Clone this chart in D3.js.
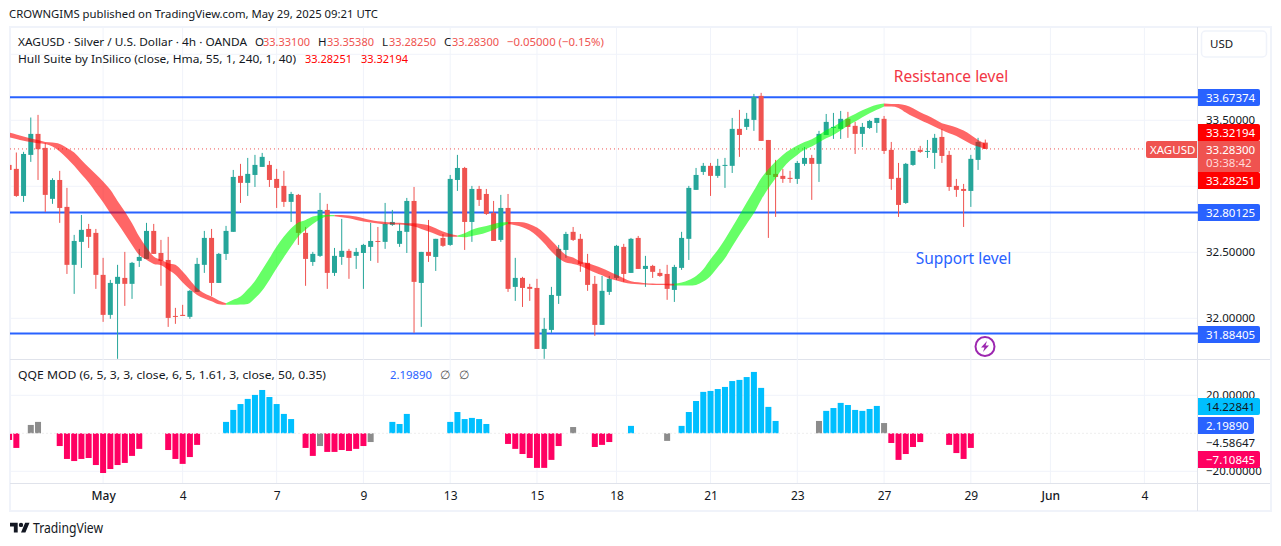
<!DOCTYPE html>
<html>
<head>
<meta charset="utf-8">
<title>XAGUSD</title>
<script src="https://cdn.jsdelivr.net/npm/d3@7"></script>
<style>
	html, body { margin: 0; padding: 0; background: #fff; }
	svg { display: block; }
	text { font-family: "Noto Sans", sans-serif; font-size: 11.5px; fill: #131722; }
</style>
</head>
<body>
<svg id="chart" width="1281" height="546"></svg>
<script>
// 4h candles, one value per bar
var candleOpen = [
	33.162, 33.132, 32.927, 33.238, 33.397, 33.291, 32.905, 33.048, 32.844, 32.405,
	32.579, 32.677, 32.647, 32.329, 32.026, 32.261, 32.306, 32.261, 32.435, 32.450,
	32.662, 32.495, 32.442, 32.018, 32.026, 32.011, 32.200, 32.405, 32.609, 32.268,
	32.488, 32.655, 33.079, 33.026, 33.086, 33.147, 33.162, 33.056, 33.003, 32.882,
	32.935, 32.647, 32.427, 32.473, 32.821, 32.344, 32.465, 32.511, 32.473, 32.495,
	32.541, 32.586, 32.579, 32.708, 32.564, 32.655, 32.889, 32.268, 32.503, 32.465,
	32.609, 32.556, 33.048, 33.139, 32.730, 32.980, 32.942, 32.799, 32.594, 32.836,
	32.238, 32.306, 32.238, 32.230, 31.768, 31.912, 32.170, 32.518, 32.655, 32.602,
	32.420, 32.261, 31.950, 32.200, 32.306, 32.541, 32.344, 32.609, 32.374, 32.397,
	32.344, 32.336, 32.215, 32.382, 32.602, 32.973, 33.109, 33.155, 33.079, 33.155,
	33.155, 33.435, 33.450, 33.503, 33.685, 33.351, 33.094, 33.079, 33.064, 33.056,
	33.170, 33.215, 33.170, 33.389, 33.442, 33.435, 33.511, 33.458, 33.397, 33.442,
	33.480, 33.511, 33.276, 33.064, 32.874, 33.162, 33.276, 33.261, 33.253, 33.374,
	33.238, 33.003, 32.980, 32.965, 33.200, 33.331
];
var candleHigh = [
	33.170, 33.256, 33.261, 33.521, 33.541, 33.326, 33.061, 33.117, 32.988, 32.632,
	32.783, 32.715, 32.677, 32.458, 32.291, 32.405, 32.503, 32.427, 32.526, 32.723,
	32.715, 32.594, 32.617, 32.079, 32.102, 32.215, 32.458, 32.662, 32.677, 32.495,
	32.700, 33.124, 33.170, 33.215, 33.238, 33.253, 33.192, 33.132, 33.117, 32.958,
	32.942, 32.692, 32.503, 32.950, 32.867, 32.533, 32.753, 32.526, 32.533, 32.564,
	32.723, 32.692, 32.874, 32.821, 32.715, 32.912, 32.995, 32.503, 32.745, 32.602,
	32.639, 33.086, 33.238, 33.147, 33.003, 33.003, 32.980, 32.889, 32.935, 32.942,
	32.458, 32.314, 32.261, 32.299, 32.003, 32.238, 32.556, 32.655, 32.692, 32.639,
	32.488, 32.321, 32.321, 32.321, 32.556, 32.564, 32.609, 32.624, 32.473, 32.405,
	32.374, 32.405, 32.405, 32.655, 33.003, 33.139, 33.177, 33.177, 33.208, 33.215,
	33.518, 33.579, 33.556, 33.700, 33.708, 33.351, 33.200, 33.132, 33.117, 33.192,
	33.298, 33.238, 33.420, 33.548, 33.556, 33.571, 33.564, 33.488, 33.480, 33.503,
	33.518, 33.533, 33.336, 33.177, 33.177, 33.268, 33.306, 33.351, 33.397, 33.435,
	33.268, 33.056, 33.018, 33.238, 33.367, 33.354
];
var candleLow = [
	33.110, 32.920, 32.882, 33.185, 33.048, 32.806, 32.867, 32.723, 32.336, 32.185,
	32.382, 32.533, 32.223, 31.973, 31.996, 31.693, 32.094, 32.147, 32.389, 32.450,
	32.488, 32.246, 31.935, 31.958, 32.018, 31.996, 32.200, 32.344, 32.170, 32.268,
	32.442, 32.655, 32.874, 32.927, 32.995, 33.147, 32.995, 32.836, 32.844, 32.730,
	32.556, 32.246, 32.397, 32.465, 32.223, 32.321, 32.405, 32.299, 32.374, 32.223,
	32.435, 32.420, 32.526, 32.700, 32.541, 32.495, 31.890, 31.935, 32.427, 32.359,
	32.541, 32.549, 32.965, 32.518, 32.579, 32.851, 32.783, 32.586, 32.579, 32.200,
	32.132, 32.086, 32.132, 31.768, 31.693, 31.890, 32.109, 32.458, 32.586, 32.352,
	32.208, 31.867, 31.950, 32.177, 32.291, 32.276, 32.344, 32.374, 32.238, 32.306,
	32.314, 32.140, 32.124, 32.367, 32.442, 32.973, 33.086, 32.927, 33.064, 32.988,
	33.101, 33.223, 33.427, 33.420, 33.344, 32.609, 32.768, 33.026, 33.026, 33.018,
	33.155, 32.897, 33.033, 33.389, 33.359, 33.359, 33.367, 33.245, 33.298, 33.435,
	33.405, 33.245, 32.973, 32.768, 32.867, 33.155, 33.253, 33.215, 33.132, 33.177,
	32.965, 32.920, 32.692, 32.844, 33.124, 33.283
];
var candleClose = [
	33.124, 32.927, 33.245, 33.397, 33.281, 32.935, 33.048, 32.836, 32.405, 32.586,
	32.670, 32.617, 32.329, 32.026, 32.268, 32.314, 32.261, 32.420, 32.465, 32.662,
	32.488, 32.435, 32.003, 32.013, 32.018, 32.208, 32.412, 32.609, 32.268, 32.488,
	32.662, 33.071, 33.026, 33.094, 33.162, 33.223, 33.048, 32.988, 32.882, 32.942,
	32.647, 32.450, 32.488, 32.821, 32.344, 32.473, 32.511, 32.458, 32.503, 32.556,
	32.586, 32.579, 32.715, 32.730, 32.662, 32.889, 32.276, 32.503, 32.473, 32.602,
	32.549, 33.056, 33.139, 32.730, 32.980, 32.897, 32.791, 32.586, 32.836, 32.223,
	32.306, 32.230, 32.223, 31.768, 31.920, 32.177, 32.526, 32.639, 32.594, 32.412,
	32.253, 31.950, 32.208, 32.299, 32.549, 32.336, 32.602, 32.374, 32.397, 32.352,
	32.321, 32.223, 32.389, 32.609, 32.988, 33.086, 33.155, 33.079, 33.155, 33.162,
	33.435, 33.389, 33.511, 33.677, 33.344, 33.086, 33.071, 33.056, 33.056, 33.177,
	33.215, 33.170, 33.397, 33.488, 33.450, 33.511, 33.450, 33.397, 33.450, 33.495,
	33.518, 33.268, 33.056, 32.859, 33.170, 33.268, 33.261, 33.268, 33.367, 33.230,
	32.995, 32.973, 32.965, 33.208, 33.336, 33.283
];

// Hull Suite band edges
var hullUpper = [
	33.407, 33.392, 33.377, 33.362, 33.351, 33.336, 33.331, 33.321, 33.291, 33.256,
	33.200, 33.144, 33.091, 33.036, 32.973, 32.889, 32.809, 32.720, 32.619, 32.536,
	32.468, 32.443, 32.417, 32.405, 32.354, 32.291, 32.228, 32.190, 32.165, 32.134,
	32.114, 32.140, 32.165, 32.220, 32.283, 32.367, 32.455, 32.543, 32.619, 32.682,
	32.725, 32.745, 32.771, 32.781, 32.783, 32.783, 32.783, 32.778, 32.771, 32.758,
	32.745, 32.735, 32.730, 32.725, 32.723, 32.720, 32.720, 32.715, 32.705, 32.682,
	32.657, 32.639, 32.627, 32.644, 32.670, 32.687, 32.700, 32.715, 32.725, 32.730,
	32.730, 32.728, 32.713, 32.687, 32.644, 32.589, 32.531, 32.480, 32.460, 32.430,
	32.417, 32.400, 32.379, 32.354, 32.329, 32.304, 32.281, 32.273, 32.266, 32.263,
	32.261, 32.261, 32.261, 32.271, 32.291, 32.321, 32.372, 32.447, 32.518, 32.599,
	32.690, 32.783, 32.877, 32.968, 33.061, 33.129, 33.187, 33.238, 33.276, 33.309,
	33.336, 33.357, 33.389, 33.427, 33.452, 33.485, 33.521, 33.548, 33.576, 33.599,
	33.617, 33.627, 33.624, 33.624, 33.614, 33.591, 33.561, 33.536, 33.508, 33.478,
	33.463, 33.445, 33.422, 33.389, 33.351, 33.322
];
var hullLower = [
	33.372, 33.359, 33.346, 33.336, 33.326, 33.321, 33.301, 33.263, 33.213, 33.155,
	33.091, 33.028, 32.953, 32.879, 32.796, 32.720, 32.639, 32.556, 32.480, 32.443,
	32.412, 32.402, 32.367, 32.329, 32.271, 32.220, 32.177, 32.150, 32.129, 32.107,
	32.102, 32.102, 32.104, 32.109, 32.152, 32.210, 32.291, 32.379, 32.463, 32.543,
	32.619, 32.670, 32.715, 32.751, 32.771, 32.773, 32.766, 32.758, 32.745, 32.733,
	32.725, 32.718, 32.713, 32.713, 32.710, 32.705, 32.695, 32.677, 32.657, 32.637,
	32.619, 32.617, 32.617, 32.614, 32.624, 32.634, 32.650, 32.670, 32.695, 32.715,
	32.705, 32.690, 32.665, 32.624, 32.569, 32.506, 32.455, 32.422, 32.412, 32.397,
	32.372, 32.347, 32.326, 32.301, 32.286, 32.271, 32.261, 32.258, 32.256, 32.253,
	32.253, 32.251, 32.248, 32.248, 32.248, 32.253, 32.278, 32.321, 32.387, 32.455,
	32.543, 32.632, 32.715, 32.796, 32.897, 32.985, 33.061, 33.137, 33.195, 33.238,
	33.276, 33.301, 33.334, 33.364, 33.389, 33.422, 33.458, 33.490, 33.523, 33.553,
	33.579, 33.604, 33.604, 33.594, 33.559, 33.528, 33.503, 33.478, 33.452, 33.427,
	33.402, 33.382, 33.351, 33.321, 33.301, 33.283
];
// bar where the band flips colour, starts out red
var hullTurns = [30, 45, 62, 69, 92, 121];

// QQE MOD histogram, null where nothing is drawn
var qqeValues = [
	-3.5, -7.7, null, 4.4, 6.0, null, null, -6.7, -13.5, -14.6,
	-13.5, -13.0, -16.7, -20.9, -18.8, -16.7, -15.6, -11.9, -8.2, null,
	null, null, -8.8, -13.5, -16.1, -12.5, -6.1, null, null, null,
	6.0, 12.3, 15.4, 18.1, 20.2, 22.8, 19.1, 15.4, 10.2, 7.5,
	null, -7.7, -11.9, -6.7, -9.8, -9.8, -8.8, -9.3, -8.2, -6.7,
	-4.6, null, null, 6.0, 4.9, 10.2, null, null, null, null,
	null, 6.0, 11.2, 7.5, 8.1, 7.5, 4.9, null, null, -5.6,
	-8.2, -10.9, -13.0, -18.2, -18.2, -14.0, -6.7, null, 3.3, null,
	null, -7.2, -6.1, -4.6, null, null, 3.9, null, null, null,
	null, -4.0, null, 3.9, 11.2, 17.0, 21.8, 22.3, 23.3, 24.4,
	27.5, 28.1, 29.6, 32.3, 23.9, 13.9, 6.5, null, null, null,
	null, null, 6.5, 11.8, 13.3, 16.0, 14.9, 12.3, 11.8, 12.8,
	14.4, 5.4, -5.1, -14.0, -10.9, -7.2, -4.6, null, null, null,
	-6.1, -10.4, -13.5, -7.7
];
var qqeGrayBars = [3, 4, 43, 50, 78, 91, 112, 121];

var levels = [33.67374, 32.80125, 31.88405];
var priceTicks = [34, 33.5, 33, 32.5, 32];
var priceLabels = [33.5, 32.5, 32];
var qqeTicks = [20, -20];
var timeTicks = [13, 24, 37, 49, 61, 73, 84, 97, 109, 121, 133, 144, 157];
var timeLabels = ['May', '4', '7', '9', '13', '15', '18', '21', '23', '27', '29', 'Jun', '4'];
var lastClose = 33.283;

var svg = d3.select('#chart');
var green = '#26a69a', red = '#ef5350', blue = '#2962ff', gridColor = '#f0f3fa', sepColor = '#e0e3eb';

var x = d3.scaleLinear().domain([0, 135]).range([9.1, 985.3]);
var y = d3.scaleLinear().domain([32, 33.5]).range([318.3, 120.3]);
var yQqe = d3.scaleLinear().domain([-20, 20]).range([471.3, 395.3]);

svg.append('rect').attr('width', 1281).attr('height', 546).attr('fill', '#fff');

var clip = svg.append('defs');
clip.append('clipPath').attr('id', 'pricePane').append('rect')
	.attr('x', 10).attr('y', 27).attr('width', 1188).attr('height', 332);
clip.append('clipPath').attr('id', 'qqePane').append('rect')
	.attr('x', 10).attr('y', 360).attr('width', 1188).attr('height', 123);

drawFrame();
drawGrid();
drawPricePane();
drawQqePane();
drawAxes();
drawLegends();

function drawFrame() {
	svg.append('rect').attr('x', 10).attr('y', 27).attr('width', 1261).attr('height', 484)
		.attr('fill', 'none').attr('stroke', gridColor).attr('stroke-width', 2);
	svg.append('line').attr('x1', 1197.5).attr('x2', 1197.5).attr('y1', 27).attr('y2', 511)
		.attr('stroke', sepColor);
	svg.append('line').attr('x1', 10).attr('x2', 1270).attr('y1', 359.5).attr('y2', 359.5)
		.attr('stroke', sepColor);
	svg.append('line').attr('x1', 10).attr('x2', 1270).attr('y1', 483.5).attr('y2', 483.5)
		.attr('stroke', sepColor);
}

function drawGrid() {
	var grid = svg.append('g').attr('stroke', gridColor);
	grid.selectAll('.vgrid').data(timeTicks).enter().append('line')
		.attr('x1', function(d) { return x(d); })
		.attr('x2', function(d) { return x(d); })
		.attr('y1', 28).attr('y2', 483);
	grid.selectAll('.hgrid').data(priceTicks).enter().append('line')
		.attr('x1', 11).attr('x2', 1197)
		.attr('y1', function(d) { return y(d); })
		.attr('y2', function(d) { return y(d); });
	grid.selectAll('.qgrid').data(qqeTicks).enter().append('line')
		.attr('x1', 11).attr('x2', 1197)
		.attr('y1', function(d) { return yQqe(d); })
		.attr('y2', function(d) { return yQqe(d); });
}

function drawPricePane() {
	var pane = svg.append('g').attr('clip-path', 'url(#pricePane)');

	pane.selectAll('.level').data(levels).enter().append('line')
		.attr('x1', 10).attr('x2', 1198)
		.attr('y1', function(d) { return y(d); })
		.attr('y2', function(d) { return y(d); })
		.attr('stroke', blue).attr('stroke-width', 2);

	pane.append('line').attr('x1', 10).attr('x2', 1198)
		.attr('y1', y(lastClose)).attr('y2', y(lastClose))
		.attr('stroke', red).attr('stroke-dasharray', '1 3');

	var bars = pane.selectAll('.candle').data(candleOpen).enter().append('g');
	bars.append('line')
		.attr('x1', function(d, i) { return x(i); })
		.attr('x2', function(d, i) { return x(i); })
		.attr('y1', function(d, i) { return y(candleHigh[i]); })
		.attr('y2', function(d, i) { return y(candleLow[i]); })
		.attr('stroke', barColor);
	bars.append('rect')
		.attr('x', function(d, i) { return x(i) - 2.5; })
		.attr('width', 5)
		.attr('y', function(d, i) { return y(Math.max(d, candleClose[i])); })
		.attr('height', function(d, i) { return Math.max(1, Math.abs(y(d) - y(candleClose[i]))); })
		.attr('fill', barColor);

	// band sits over the candles, half see-through
	var band = d3.area()
		.x(function(i) { return x(i); })
		.y0(function(i) { return y(hullLower[i]); })
		.y1(function(i) { return y(hullUpper[i]); })
		.curve(d3.curveMonotoneX);
	var cuts = [0].concat(hullTurns, [135]);
	for(var k = 0; k < cuts.length - 1; k++) {
		pane.append('path')
			.attr('d', band(d3.range(cuts[k], cuts[k + 1] + 1)))
			.attr('fill', k % 2 == 0 ? '#ff0000' : '#00ff00')
			.attr('fill-opacity', 0.6);
	}

	svg.append('text').attr('x', 951).attr('y', 77).attr('dy', '.35em').attr('text-anchor', 'middle')
		.style('font-size', '15.5px').style('fill', '#f23645').text('Resistance level');
	svg.append('text').attr('x', 963.5).attr('y', 259).attr('dy', '.35em').attr('text-anchor', 'middle')
		.style('font-size', '15.5px').style('fill', blue).text('Support level');

	// lightning badge
	var badge = svg.append('g').attr('transform', 'translate(985,346.5)');
	badge.append('circle').attr('r', 9.5).attr('fill', '#fff').attr('stroke', '#9c27b0').attr('stroke-width', 2);
	badge.append('path').attr('d', 'M2 -5.5 L-4 1 L-0.5 1 L-2 5.5 L4 -1 L0.5 -1 Z').attr('fill', '#9c27b0');
}

function barColor(d, i) {
	return candleClose[i] >= candleOpen[i] ? green : red;
}

function drawQqePane() {
	var pane = svg.append('g').attr('clip-path', 'url(#qqePane)');
	var shown = d3.range(qqeValues.length).filter(function(i) { return qqeValues[i] !== null; });

	pane.selectAll('.qqe').data(shown).enter().append('rect')
		.attr('x', function(i) { return x(i) - 3; })
		.attr('width', 6)
		.attr('y', function(i) { return Math.min(yQqe(qqeValues[i]), yQqe(0)); })
		.attr('height', function(i) { return Math.abs(yQqe(qqeValues[i]) - yQqe(0)); })
		.attr('fill', function(i) {
			if(qqeGrayBars.indexOf(i) != -1) return '#8c8c8c';
			return qqeValues[i] > 0 ? '#00bfff' : '#ff0062';
		});

	pane.append('line').attr('x1', 10).attr('x2', 1198)
		.attr('y1', yQqe(0)).attr('y2', yQqe(0))
		.attr('stroke', '#eeeeee').attr('stroke-dasharray', '2 2');
}

function drawAxes() {
	var timeAxis = d3.axisBottom(x)
		.tickValues(timeTicks)
		.tickFormat(function(d, i) { return timeLabels[i]; })
		.tickSize(0).tickPadding(0);
	var gt = svg.append('g').attr('transform', 'translate(0,491.5)').call(timeAxis);
	gt.select('.domain').remove();
	gt.selectAll('text').style('font-size', '12px').style('font-family', '"Noto Sans", sans-serif')
		.style('fill', '#131722').attr('dy', '.71em').attr('y', 0)
		.style('font-weight', function(d, i) { return timeLabels[i] == 'May' || timeLabels[i] == 'Jun' ? 500 : 400; });

	var priceAxis = d3.axisRight(y).tickValues(priceLabels).tickFormat(d3.format('.5f')).tickSize(0).tickPadding(0);
	var gp = svg.append('g').attr('transform', 'translate(1206,0)').call(priceAxis);
	gp.select('.domain').remove();

	var qqeAxis = d3.axisRight(yQqe).tickValues(qqeTicks).tickFormat(d3.format('.5f')).tickSize(0).tickPadding(0);
	var gq = svg.append('g').attr('transform', 'translate(1206,0)').call(qqeAxis);
	gq.select('.domain').remove();
	[gp, gq].forEach(function(g) {
		g.selectAll('text').style('font-size', '11.5px').style('font-family', '"Noto Sans", sans-serif').style('fill', '#131722');
	});

	// axis labels nudged against each other the way the chart stacks them
	priceTag(33.67374, 97.5, blue, '#fff', 1260);
	priceTag(33.32194, 132.5, '#ff0000', '#fff', 1260);
	priceTag(33.28251, 180.5, '#ff0000', '#fff', 1260);

	svg.append('rect').attr('x', 1198).attr('y', 141).attr('width', 62).attr('height', 31).attr('fill', red);
	svg.append('text').attr('x', 1206).attr('y', 149.5).attr('dy', '.35em').style('fill', '#fff').text('33.28300');
	svg.append('text').attr('x', 1206).attr('y', 163).attr('dy', '.35em').style('fill', '#ffd9d9').text('03:38:42');

	svg.append('path').attr('d', roundedLeft(1146, 141, 51, 17, 2)).attr('fill', red);
	svg.append('text').attr('x', 1150).attr('y', 149.5).attr('dy', '.35em').style('fill', '#fff').text('XAGUSD');

	priceTag(32.80125, 212.5, blue, '#fff', 1260);
	priceTag(31.88405, 334.5, blue, '#fff', 1260);

	priceTag(14.22841, 406.5, '#00bfff', '#131722', 1260);
	priceTag(2.1989, 425.5, blue, '#fff', 1254);
	svg.append('text').attr('x', 1206).attr('y', 442.7).attr('dy', '.35em').text(d3.format('.5f')(-4.58647));
	priceTag(-7.10845, 459.5, '#ff0062', '#fff', 1260);

	// currency box
	svg.append('rect').attr('x', 1201.5).attr('y', 31).attr('width', 65).attr('height', 26).attr('rx', 4)
		.attr('fill', '#fff').attr('stroke', gridColor).attr('stroke-width', 1.5);
	svg.append('text').attr('x', 1210).attr('y', 44).attr('dy', '.35em').text('USD');
}

function priceTag(value, cy, fill, textFill, right) {
	svg.append('path').attr('d', roundedRight(1198, cy - 8.5, right - 1198, 17, 2)).attr('fill', fill);
	svg.append('text').attr('x', 1206).attr('y', cy).attr('dy', '.35em').style('fill', textFill)
		.text(d3.format('.5f')(value));
}

function roundedRight(px, py, w, h, r) {
	return 'M' + px + ',' + py + 'h' + (w - r) + 'a' + r + ',' + r + ' 0 0 1 ' + r + ',' + r +
		'v' + (h - 2 * r) + 'a' + r + ',' + r + ' 0 0 1 ' + (-r) + ',' + r + 'h' + (r - w) + 'z';
}

function roundedLeft(px, py, w, h, r) {
	return 'M' + (px + w) + ',' + py + 'h' + (r - w) + 'a' + r + ',' + r + ' 0 0 0 ' + (-r) + ',' + r +
		'v' + (h - 2 * r) + 'a' + r + ',' + r + ' 0 0 0 ' + r + ',' + r + 'h' + (w - r) + 'z';
}

function drawLegends() {
	label(9, 14, 'CROWNGIMS published on TradingView.com, May 29, 2025 09:21 UTC', '#131722', 369);

	label(18, 42, 'XAGUSD · Silver / U.S. Dollar · 4h · OANDA', '#131722', 229);
	label(255, 42, 'O', '#131722'); label(263, 42, '33.33100', red, 47);
	label(318, 42, 'H', '#131722'); label(327, 42, '33.35380', red, 47);
	label(382, 42, 'L', '#131722'); label(389, 42, '33.28250', red, 47);
	label(444, 42, 'C', '#131722'); label(452, 42, '33.28300', red, 47);
	label(507, 42, '−0.05000 (−0.15%)', red, 97);

	label(18, 59, 'Hull Suite by InSilico (close, Hma, 55, 1, 240, 1, 40)', '#131722', 278);
	label(305, 59, '33.28251', '#ff0000', 47);
	label(361, 59, '33.32194', '#ff0000', 47);

	label(18, 375, 'QQE MOD (6, 5, 3, 3, close, 6, 5, 1.61, 3, close, 50, 0.35)', '#131722', 308);
	label(390, 375, '2.19890', blue, 42);
	label(440, 375, '∅', '#555555');
	label(459, 375, '∅', '#555555');

	var logo = svg.append('g').attr('transform', 'translate(10,520.5) scale(0.55)').attr('fill', '#131722');
	logo.append('path').attr('d', 'M14 22H7V11H0V4h14v18zM28 22h-8l7.5-18h8L28 22z');
	logo.append('circle').attr('cx', 20).attr('cy', 8).attr('r', 4);
	svg.append('text').attr('x', 33).attr('y', 528).attr('dy', '.35em')
		.attr('textLength', 70).attr('lengthAdjust', 'spacingAndGlyphs')
		.style('font-size', '13.5px').text('TradingView');
}

// width, when given, stretches the text to the span it has in the chart
function label(px, py, str, color, width) {
	var t = svg.append('text').attr('x', px).attr('y', py).attr('dy', '.35em').style('fill', color).text(str);
	if(width) t.attr('textLength', width).attr('lengthAdjust', 'spacingAndGlyphs');
}
</script>
</body>
</html>
